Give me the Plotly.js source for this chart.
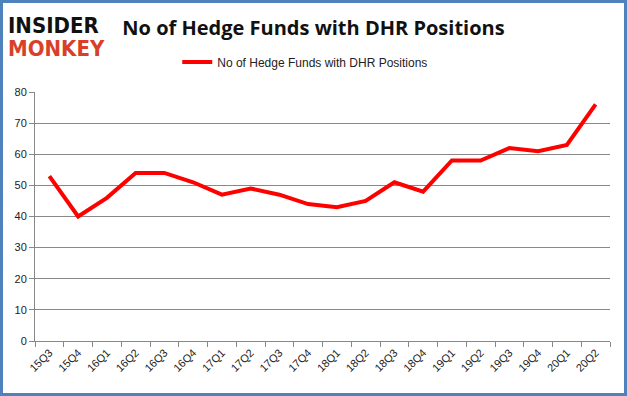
<!DOCTYPE html>
<html><head><meta charset="utf-8">
<script src="https://cdn.plot.ly/plotly-3.0.1.min.js"></script>
<style>
body{margin:0;padding:0;background:#fff;}
#wrap{position:relative;width:627px;height:396px;}
#chart{position:absolute;left:0;top:0;width:627px;height:396px;}
#frame{position:absolute;left:0;top:0;width:627px;height:396px;box-sizing:border-box;border:3px solid #4F81BD;pointer-events:none;}
</style></head>
<body><div id="wrap"><div id="chart"></div><div id="frame"></div></div>
<script>
const quarters = ["15Q3","15Q4","16Q1","16Q2","16Q3","16Q4","17Q1","17Q2","17Q3","17Q4","18Q1","18Q2","18Q3","18Q4","19Q1","19Q2","19Q3","19Q4","20Q1","20Q2"];
const hedgeFunds = [53,40,46,54,54,51,47,49,47,44,43,45,51,48,58,58,62,61,63,76];
const seriesName = "No of Hedge Funds with DHR Positions";
const chartTitle = "No of Hedge Funds with DHR Positions";

const trace = {
  x: quarters, y: hedgeFunds, type: "scatter", mode: "lines", name: seriesName,
  line: {color: "#FF0000", width: 4}
};
const layout = {
  width: 627, height: 396,
  margin: {l: 35, r: 17, t: 92, b: 55},
  paper_bgcolor: "#fff", plot_bgcolor: "#fff",
  showlegend: true,
  legend: {orientation: "h", x: 0.47, xanchor: "center", y: 1.12, yanchor: "middle",
           font: {family: "Liberation Sans, Arial, sans-serif", size: 12, color: "#222"}},
  title: {text: "<b>" + chartTitle + "</b>", x: 0.5, xanchor: "center", y: 0.93, yanchor: "middle",
          font: {family: "Open Sans, Noto Sans, sans-serif", size: 20, color: "#111"}},
  xaxis: {type: "category", range: [-0.5, quarters.length - 0.5], tickangle: -45, showgrid: false, showline: true, linecolor: "#888",
          ticks: "outside", tickson: "boundaries", ticklen: 5, tickcolor: "#888",
          tickfont: {family: "Liberation Sans, Arial, sans-serif", size: 11, color: "#222"}},
  yaxis: {range: [0, 80], dtick: 10, showgrid: true, gridcolor: "#888", gridwidth: 1,
          showline: true, linecolor: "#888", ticks: "outside", ticklen: 5, tickcolor: "#888",
          zeroline: false,
          tickfont: {family: "Liberation Sans, Arial, sans-serif", size: 11, color: "#222"}},
  annotations: [
    {text: "<b>INSIDER</b>", xref: "paper", yref: "paper", x: -0.05, y: 1.21, xanchor: "left", yanchor: "bottom",
     showarrow: false, font: {family: "DejaVu Sans Condensed, DejaVu Sans, sans-serif", size: 22, color: "#111"}},
    {text: "<b>MONKEY</b>", xref: "paper", yref: "paper", x: -0.05, y: 1.115, xanchor: "left", yanchor: "bottom",
     showarrow: false, font: {family: "DejaVu Sans Condensed, DejaVu Sans, sans-serif", size: 22, color: "#D9402A"}}
  ]
};
Plotly.newPlot("chart", [trace], layout, {displayModeBar: false, staticPlot: true});
</script></body></html>
